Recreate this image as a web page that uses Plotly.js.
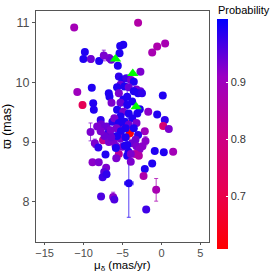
<!DOCTYPE html>
<html><head><meta charset="utf-8">
<script src="https://cdn.plot.ly/plotly-3.0.1.min.js"></script>
<style>html,body{margin:0;padding:0;background:#fff}#c{width:274px;height:274px}</style>
</head><body><div id="c"></div>
<script>
// proper motion in declination (mas/yr)
const pmdec = [-11.2,-3.0,-9.83,-10.02,-9.06,-8.0,-7.4,-6.7,-6.45,-5.3,-4.9,-5.38,-5.6,-2.7,-1.19,-0.55,0.47,
-10.8,-8.94,-10.13,-8.76,-8.68,-6.76,-6.67,-6.41,0.17,-1.7,-0.55,0.43,0.22,0.94,-7.8,-7.75,-9.1,-8.55,-8.1,-7.5,
-7.05,-6.3,-6.84,-6.1,-5.9,-5.1,-4.06,-2.14,-2.05,-3.0,-3.33,-3.76,-4.4,-4.23,-3.2,-2.8,-2.44,-3.38,-2.9,-0.86,
0.3,1.5,-7.18,-5.47,-5.8,-4.4,-3.94,-8.85,-8.05,-7.1,-7.35,-7.55,-7.05,-2.14,-1.19,-2.3,-4.19,-0.68,-7.75,-6.2,
-6.05,-1.96,
-5.47,-5.04,-4.5,-3.9,-3.55,-5.26,-4.74,-5.7,-4.2,-3.2,-2.7,-3.0,-3.55,-5.47,-4.4,-2.5,-4.9,-3.76,-5.26,-4.4,
-5.7,-4.9,-4.2,-3.1,-2.78,-5.26,-3.76,-6.05,-4.74,-5.47,-4.2,-3.2,-5.77,-4.6,-3.55,-6.54,-5.2,-6.1,-6.75,-5.26,
-4.6,-5.7,-7.3,-7.8,-8.25,-5.0,-5.85,-3.93,-4.7,-6.45];
// parallax (mas)
const parallax = [10.92,11.0,10.51,10.39,10.39,10.36,10.45,10.41,10.38,10.61,10.63,10.49,10.28,10.18,10.5,10.6,10.65,
9.84,9.91,9.62,9.65,9.54,9.82,9.76,9.66,9.78,9.51,9.46,9.37,9.27,9.22,9.37,9.3,9.17,8.98,8.91,9.03,
9.26,9.34,9.15,9.09,8.94,9.29,9.15,9.18,9.02,9.12,9.04,8.98,8.95,8.84,8.93,8.88,8.93,8.8,8.77,8.85,
8.83,8.84,8.79,8.8,8.73,8.77,8.67,8.66,8.66,8.57,8.5,8.41,8.46,8.55,8.64,8.43,8.31,8.2,8.09,8.08,
8.04,7.87,
10.1,10.05,10.07,10.04,10.01,9.96,9.93,9.92,9.92,9.88,9.85,9.82,9.85,9.82,9.76,9.82,9.71,9.68,9.66,9.62,
9.54,9.51,9.48,9.48,9.55,9.43,9.4,9.4,9.34,9.32,9.29,9.32,9.23,9.23,9.23,9.2,9.18,9.04,9.0,9.06,
9.08,9.1,9.1,9.18,9.26,8.92,8.9,8.8,8.94,9.08];
// membership probability
const probability = [0.89,0.86,0.99,0.99,0.94,0.99,0.93,0.93,0.94,0.99,0.99,0.99,0.99,0.93,0.88,0.87,0.88,
0.90,0.99,0.72,0.99,0.99,0.99,0.99,0.93,0.99,0.92,0.99,0.98,0.77,0.93,0.98,0.94,0.93,0.93,0.98,0.82,
0.94,0.98,0.98,0.94,0.93,0.93,0.62,0.90,0.92,0.98,0.94,0.94,0.99,0.99,0.93,0.92,0.92,0.85,0.86,0.99,
0.99,0.89,0.99,0.84,0.93,0.99,0.93,0.92,0.93,0.93,0.95,0.97,0.98,0.99,0.99,0.87,0.99,0.88,0.96,0.92,
0.96,0.97,
0.98,0.99,0.97,0.93,0.99,0.94,0.99,0.99,0.94,0.93,0.94,0.99,0.99,0.93,0.99,0.98,0.99,0.99,0.94,0.99,
0.99,0.93,0.99,0.99,0.99,0.99,0.99,0.93,0.99,0.99,0.94,0.93,0.93,0.99,0.99,0.93,0.99,0.93,0.93,0.93,
0.99,0.99,0.94,0.93,0.93,0.93,0.99,0.93,0.99,0.94];
// visible uncertainties (index -> [pmdec error, parallax error])
const errIndex = [4,6,19,33,34,36,43,45,60,73,74,76,95,98,104];
const errPm    = [0,0,0,0,0,0,0,0,0,0.55,0,0,0,0,0];
const errPlx   = [0.05,0.09,0.05,0.15,0.07,0.05,0.21,0.07,0.08,0.57,0.19,0.08,0.06,0.45,0.43];
// highlighted objects
const hlPm  = [-5.9,-3.68,-3.25];
const hlPlx = [10.39,10.15,9.59];

const cmin = 0.608, cmax = 1.011;
const stops = [[0,[255,0,0]],[0.25,[232,0,80]],[0.5,[202,0,137]],[0.75,[154,0,195]],[1,[0,0,255]]];
const colorscale = stops.map(s=>[s[0],'rgb('+s[1].join(',')+')']);
function colorOf(p, a){
  let t = Math.max(0, Math.min(1, (p-cmin)/(cmax-cmin)));
  for (let i=0;i<stops.length-1;i++){
    const [t0,c0]=stops[i],[t1,c1]=stops[i+1];
    if (t<=t1){const f=(t-t0)/(t1-t0);
      return 'rgba('+c0.map((v,k)=>Math.round(v+(c1[k]-v)*f)).join(',')+','+a+')';}
  }
  return 'rgba(0,0,255,'+a+')';
}

const traces = [];
errIndex.forEach((idx,k)=>{
  const col = colorOf(probability[idx], 0.75);
  traces.push({type:'scatter',mode:'markers',x:[pmdec[idx]],y:[parallax[idx]],
    marker:{size:8,opacity:0},hoverinfo:'skip',showlegend:false,
    error_y:{type:'data',array:[errPlx[k]],visible:errPlx[k]>0,color:col,thickness:1,width:2},
    error_x:{type:'data',array:[errPm[k]],visible:errPm[k]>0,color:col,thickness:1,width:2}});
});
traces.push({type:'scatter',mode:'markers',x:pmdec,y:parallax,showlegend:false,
  marker:{size:8,color:probability,colorscale:colorscale,cmin:cmin,cmax:cmax,
    line:{width:0},
    colorbar:{thickness:11,lenmode:'pixels',len:230,yanchor:'top',y:(242-19)/231,
      x:(217-36)/173,xanchor:'left',xpad:0,ypad:0,outlinewidth:0,
      tickvals:[0.7,0.8,0.9],ticktext:['0.7','0.8','0.9'],ticks:'inside',ticklen:2,tickcolor:'#ffffff',
      tickfont:{family:'Liberation Sans, Arial, sans-serif',size:11,color:'#333333'}}}});
traces.push({type:'scatter',mode:'markers',x:hlPm,y:hlPlx,showlegend:false,
  marker:{symbol:'triangle-up',size:10,color:'#00FF00',line:{width:0}}});

const layout = {
  width:274,height:274,margin:{l:36,r:65,t:11,b:32},
  paper_bgcolor:'#fff',plot_bgcolor:'#fff',
  font:{family:'Liberation Sans, Arial, sans-serif',color:'#000'},
  xaxis:{range:[-16.1,6.1],tickvals:[-15,-10,-5,0,5],showgrid:false,zeroline:false,
    showline:true,mirror:true,linecolor:'#555555',linewidth:1,ticks:'outside',ticklen:2,tickcolor:'#555555',
    ticklabelstandoff:-1,
    tickfont:{size:11,color:'#4d4d4d'},automargin:false},
  yaxis:{range:[7.326,11.196],tickvals:[8,9,10,11],showgrid:false,zeroline:false,
    showline:true,mirror:true,linecolor:'#555555',linewidth:1,ticks:'outside',ticklen:3,tickcolor:'#555555',
    tickfont:{size:12.5,color:'#4d4d4d'},automargin:false,
    title:{text:'ϖ (mas)',font:{size:12.5,color:'#000'},standoff:4}},
  annotations:[
    {text:'Probability',xref:'paper',yref:'paper',x:(216-36)/173,y:(242-2)/231,
     xanchor:'left',yanchor:'top',showarrow:false,font:{size:11,color:'#000'}},
    {text:'μ<sub>δ</sub> (mas/yr)',xref:'paper',yref:'paper',x:0.5,y:-(274-242)/231,borderpad:0,
     xanchor:'center',yanchor:'bottom',showarrow:false,font:{size:11.5,color:'#000'}}]
};
Plotly.newPlot('c',traces,layout,{displayModeBar:false,staticPlot:true});
</script></body></html>
